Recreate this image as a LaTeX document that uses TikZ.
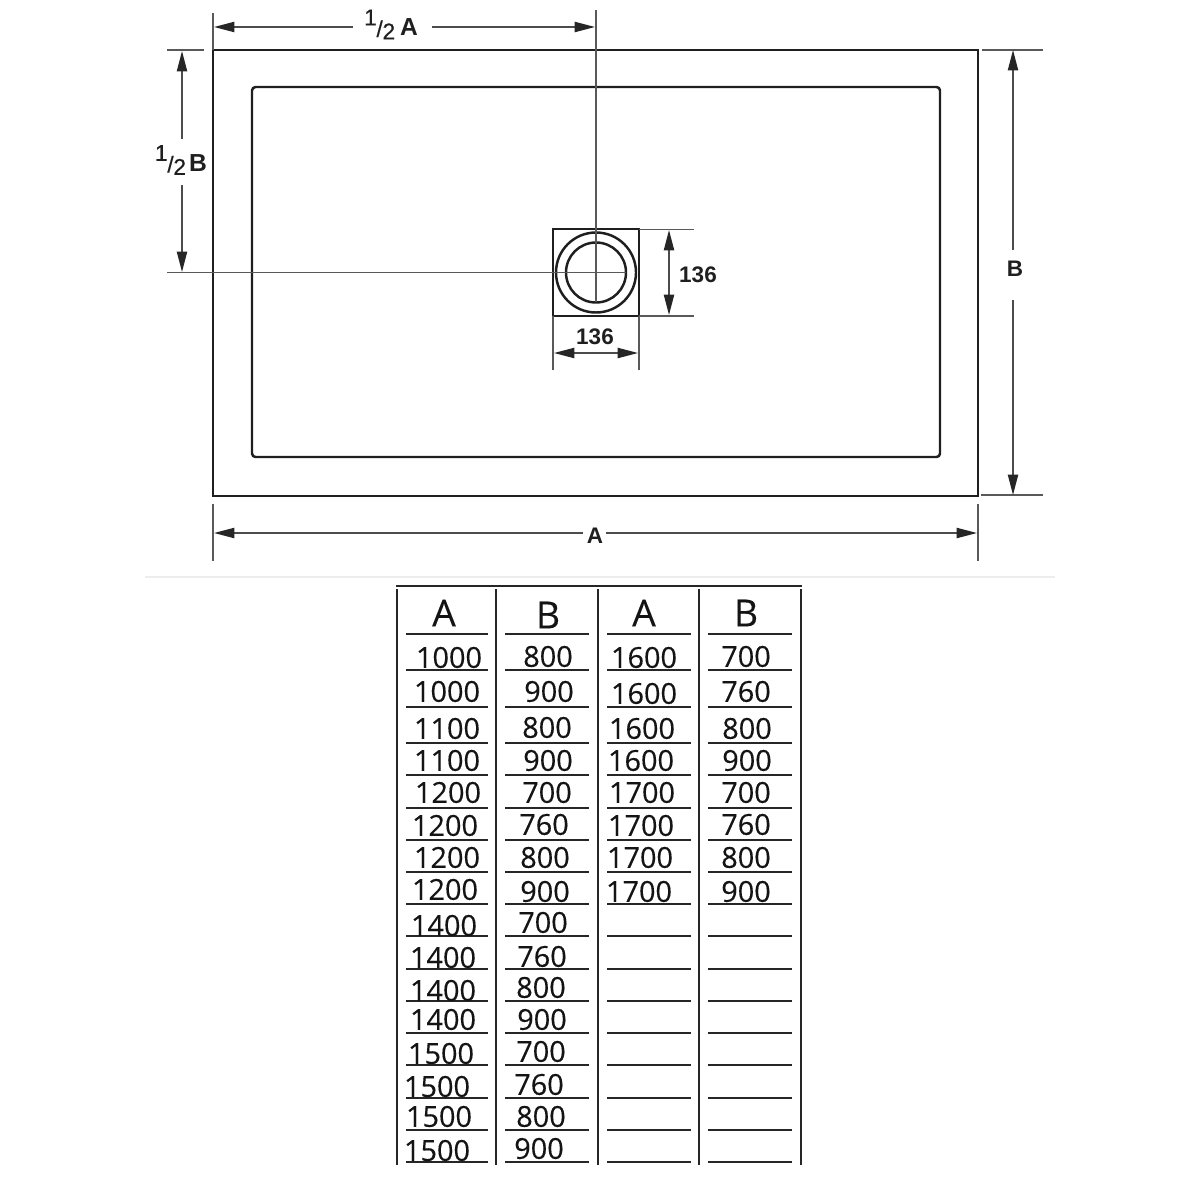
\documentclass[tikz,border=0pt]{standalone}
\usepackage{fontspec}
\usetikzlibrary{arrows.meta}
\newfontfamily\dimfont{Liberation Sans}
\newfontfamily\halffont[FakeBold=.5]{Liberation Sans}
\newfontfamily\tabfont[FakeBold=.25]{Open Sans}
\newcommand{\halfof}[2]{{\halffont\fontsize{6.5pt}{6.5pt}\selectfont\raisebox{3pt}{1}\kern-.1pt\raisebox{-.3pt}{/}\kern-.1pt\raisebox{-1pt}{2}}\kern#1{\bfseries #2}}
\tikzset{
	outline/.style={line width=.7pt, draw=black!88},
	rule/.style={line width=.65pt, draw=black!85},
	dimline/.style={line width=.45pt, draw=black!70, {Triangle[length=5.8pt,width=2.9pt,color=black!85]}-{Triangle[length=5.8pt,width=2.9pt,color=black!85]}},
	dimhalf/.style={line width=.45pt, draw=black!70, -{Triangle[length=5.8pt,width=2.9pt,color=black!85]}},
	extline/.style={line width=.45pt, draw=black!65},
	dimlabel/.style={inner sep=0pt, text=black!88, font=\dimfont\fontsize{6.4pt}{6.4pt}\selectfont},
	halflabel/.style={inner sep=0pt, text=black!88, font=\dimfont\fontsize{7pt}{7pt}\selectfont},
	tabnum/.style={inner sep=0pt, text=black!92, yshift=.15pt, font=\tabfont\fontsize{8.2pt}{8.2pt}\selectfont},
	tabhead/.style={inner sep=0pt, text=black!92, font=\tabfont\fontsize{10.6pt}{10.6pt}\selectfont}
}
\begin{document}
\begin{tikzpicture}[x=.01cm, y=-.01cm]
	\useasboundingbox (0,0) rectangle (1200,1200);
	% tray corners
	\coordinate (tl) at (213,50);
	\coordinate (br) at (978,496);
	\coordinate (drain) at (596,272.5);
	% tray
	\draw[outline] (tl) rectangle (br);
	\draw[outline, rounded corners=1pt] (252,87) rectangle (940,457);
	% waste
	\draw[outline] (553,229) rectangle (639,316);
	\draw[outline] (drain) circle (40);
	\draw[outline] (drain) circle (30);
	% centre lines
	\draw[extline] (596,10) -- (596,302);
	\draw[extline] (167,272.5) -- (626,272.5);
	% half A
	\draw[extline] (213,13) -- (tl);
	\node[halflabel] (halfA) at (391,24.5) {\halfof{1.4pt}{A}};
	\draw[dimhalf] (353,27) -- (214,27);
	\draw[dimhalf] (432,27) -- (595,27);
	% half B
	\draw[extline] (167,50) -- (204,50);
	\node[halflabel] (halfB) at (181,160) {\halfof{.9pt}{B}};
	\draw[dimhalf] (182,139) -- (182,51);
	\draw[dimhalf] (182,185) -- (182,272);
	% B
	\draw[extline] (982,50) -- (1043,50);
	\draw[extline] (981,495) -- (1043,495);
	\node[dimlabel] (dimB) at (1015,269) {\bfseries B};
	\draw[dimhalf] (1013,250) -- (1013,50);
	\draw[dimhalf] (1013,300) -- (1013,495);
	% A
	\draw[extline] (213,504) -- (213,561);
	\draw[extline] (978,504) -- (978,561);
	\node[dimlabel] (dimA) at (595,536) {\bfseries A};
	\draw[dimhalf] (583,533) -- (214,533);
	\draw[dimhalf] (606,533) -- (977,533);
	% 136
	\draw[extline] (639,229.5) -- (694,229.5);
	\draw[extline] (639,316) -- (694,316);
	\draw[dimline] (669,230) -- (669,315);
	\node[dimlabel] (sizeV) at (698,275) {\bfseries 136};
	\draw[extline] (553,316) -- (553,370);
	\draw[extline] (639,316) -- (639,370);
	\draw[dimline] (554,353) -- (638,353);
	\node[dimlabel] (sizeH) at (595,337) {\bfseries 136};
	% divider
	\draw[line width=.3pt, draw=black!7] (145,577) -- (1055,577);
	% table frame
	\draw[rule] (396,586) -- (802,586);
	\foreach \x in {397,496,598,699,801}
		\draw[rule] (\x,589) -- (\x,1165);
	% table rules
	\foreach \y in {634,670,707,743,775,808,840,872,904,936,969,1001,1033,1065,1098,1130,1162}
		\foreach \l/\r in {406/488,505/589,607/691,708/792}
			\draw[rule] (\l,\y) -- (\r,\y);
	% heads
	\node[tabhead] (headAa) at (444,613) {A};
	\node[tabhead] (headBa) at (548,615) {B};
	\node[tabhead] (headAb) at (644,613) {A};
	\node[tabhead] (headBb) at (746,613) {B};
	% first A
	\foreach \x/\y/\t [count=\i] in {449/658/1000,447/692/1000,447/729/1100,447/761/1100,
		448/793/1200,445/826/1200,447/858/1200,445/890/1200,
		444/926/1400,443/958/1400,443/991/1400,443/1020/1400,
		441/1054/1500,437/1087/1500,439/1117/1500,437/1151/1500}
		\node[tabnum] (aa\i) at (\x,\y) {\t};
	% first B
	\foreach \x/\y/\t [count=\i] in {548/657/800,549/692/900,547/728/800,548/761/900,
		547/793/700,544/825/760,545/858/800,545/892/900,
		543/923/700,542/957/760,541/988/800,542/1020/900,
		541/1052/700,539/1085/760,541/1117/800,539/1149/900}
		\node[tabnum] (ba\i) at (\x,\y) {\t};
	% second A
	\foreach \x/\y/\t [count=\i] in {644/658/1600,644/694/1600,642/729/1600,641/761/1600,
		642/793/1700,641/826/1700,640/858/1700,639/892/1700}
		\node[tabnum] (ab\i) at (\x,\y) {\t};
	% second B
	\foreach \x/\y/\t [count=\i] in {746/657/700,746/692/760,747/729/800,747/761/900,
		746/793/700,746/825/760,746/858/800,746/892/900}
		\node[tabnum] (bb\i) at (\x,\y) {\t};
\end{tikzpicture}
\end{document}
